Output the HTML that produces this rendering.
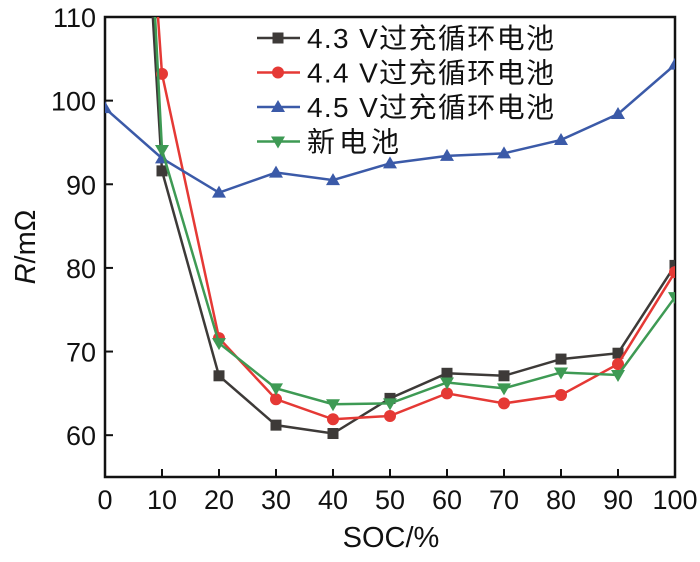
<!DOCTYPE html>
<html><head><meta charset="utf-8"><style>
body{margin:0;background:#fff;}
svg text{font-family:"Liberation Sans","Noto Sans CJK SC",sans-serif;fill:#111;}
</style></head><body>
<svg id="chart" width="700" height="557" xmlns="http://www.w3.org/2000/svg">
<defs><clipPath id="clip"><rect x="105" y="17" width="570" height="460"/></clipPath></defs>
<g id="grid"></g>
<g id="series" clip-path="url(#clip)"></g>
<g id="legend"></g>
</svg>
<script>
const soc=[0,10,20,30,40,50,60,70,80,90,100];
const s43=[206,91.6,67.1,61.2,60.2,64.4,67.4,67.1,69.1,69.8,80.3];
const s44=[200,103.2,71.6,64.3,61.9,62.3,65.0,63.8,64.8,68.5,79.5];
const s45=[99.1,93.1,89.0,91.4,90.5,92.5,93.4,93.7,95.3,98.4,104.3];
const sNew=[225,94.1,71.0,65.6,63.7,63.8,66.3,65.6,67.5,67.2,76.5];
const xTicks=[0,10,20,30,40,50,60,70,80,90,100];
const yTicks=[60,70,80,90,100,110];
const names=["4.3 V过充循环电池","4.4 V过充循环电池","4.5 V过充循环电池","新电池"];
const colors=["#3d3a38","#e53935","#3b5aa8","#3e9a54"];
const markers=["square","circle","tri-up","tri-down"];
const X0=105,X1=675,Y0=477,Y1=17,xmin=0,xmax=100,ymin=55,ymax=110;
const xs=v=>X0+(v-xmin)/(xmax-xmin)*(X1-X0);
const ys=v=>Y0-(v-ymin)/(ymax-ymin)*(Y0-Y1);
const NS="http://www.w3.org/2000/svg";
function mk(tag,attrs,parent){const e=document.createElementNS(NS,tag);for(const k in attrs)e.setAttribute(k,attrs[k]);parent.appendChild(e);return e;}
const grid=document.getElementById('grid'),ser=document.getElementById('series'),leg=document.getElementById('legend');
let frame=mk('rect',{x:X0,y:Y1,width:X1-X0,height:Y0-Y1,fill:'none',stroke:'#111','stroke-width':2.5},grid);


xTicks.forEach(t=>{
 let l=mk('line',{x1:xs(t),x2:xs(t),y1:Y0,y2:Y0-8,stroke:'#111','stroke-width':2},grid);
 
 
 let tx=mk('text',{x:xs(t),y:Y0+32,'text-anchor':'middle','font-size':27},grid);tx.textContent=t;
 
 
});
yTicks.forEach(t=>{
 let l=mk('line',{x1:X0,x2:X0+8,y1:ys(t),y2:ys(t),stroke:'#111','stroke-width':2},grid);
 
 
 let tx=mk('text',{x:X0-9,y:ys(t)+10,'text-anchor':'end','font-size':27},grid);tx.textContent=t;
 
 
});
let xl=mk('text',{x:391,y:547,'text-anchor':'middle','font-size':29},grid);xl.textContent='SOC/%';


let yl=mk('text',{x:0,y:0,'text-anchor':'middle','font-size':29,transform:'translate(35,247) rotate(-90)'},grid);
yl.innerHTML='<tspan font-style="italic">R</tspan>/mΩ';


function marker(type,x,y,c,p){
 let e;
 if(type==='square')e=mk('rect',{x:x-5.5,y:y-5.5,width:11,height:11,fill:c},p);
 else if(type==='circle')e=mk('circle',{cx:x,cy:y,r:6,fill:c},p);
 else if(type==='tri-up')e=mk('polygon',{points:`${x},${y-7} ${x-7},${y+5} ${x+7},${y+5}`,fill:c},p);
 else e=mk('polygon',{points:`${x},${y+7} ${x-7},${y-5} ${x+7},${y-5}`,fill:c},p);
 return e;
}
[s43,s44,s45,sNew].forEach((data,i)=>{
 let pl=mk('polyline',{points:data.map((v,j)=>xs(soc[j])+','+ys(v)).join(' '),fill:'none',stroke:colors[i],'stroke-width':2.5},ser);
 
 
 data.forEach((v,j)=>{
  let m=marker(markers[i],xs(soc[j]),ys(v),colors[i],ser);
  
  
 });
 const ly=38+i*34.5;
 let ll=mk('line',{x1:257,x2:300,y1:ly,y2:ly,stroke:colors[i],'stroke-width':2.5},leg);
 
 
 let lm=marker(markers[i],278,ly,colors[i],leg);
 
 
 let lt=mk('text',{x:307,y:ly+10,'font-size':28,textLength:i<3?247:92},leg);lt.textContent=names[i];
 
 
});
</script>
</body></html>
